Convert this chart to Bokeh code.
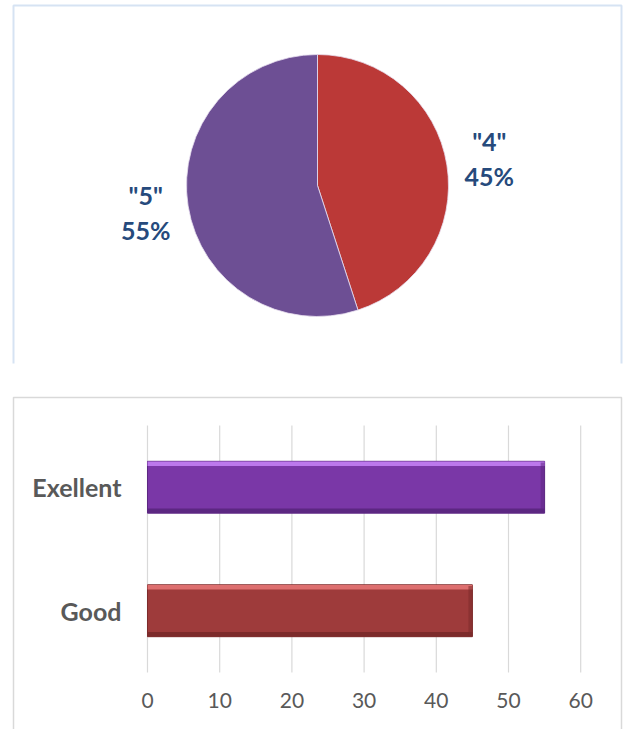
import numpy as np
from bokeh.plotting import figure
from bokeh.models import Range1d, BoxAnnotation, ColumnDataSource
from bokeh.layouts import column
from bokeh.transform import dodge
from bokeh.core.properties import value
from bokeh.embed import file_html
from bokeh.resources import INLINE

# ---------------- data ----------------
ratings = ['"4"', '"5"']
shares = [45, 55]
pie_colors = ["#BB3937", "#6D4F94"]

bar_cats = ["Good", "Exellent"]
bar_vals = [45, 55]
bar_colors = ["#9E3B3B", "#7A37A7"]
bar_tops = ["#DD6F6F", "#BC78EC"]
bar_bottoms = ["#7C2B2B", "#5C2782"]
x_ticks = [0, 10, 20, 30, 40, 50, 60]

LABEL_COLOR = "#264A7C"
GRAY = "#595959"
FONT = "Lato"
W = 623

# ---------------- pie panel ----------------
FH1 = 363          # frame height of the pie panel
H1 = 395           # figure height
p1 = figure(width=W, height=H1, x_range=Range1d(0, W), y_range=Range1d(0, FH1),
            output_backend="svg", toolbar_location=None,
            min_border_left=0, min_border_right=0, min_border_top=0,
            min_border_bottom=H1 - FH1)
p1.frame_align = False
p1.axis.visible = False
p1.grid.visible = False
p1.outline_line_color = None

cx, cy, R = 317, FH1 - 185, 131
frac = np.array(shares, dtype=float) / sum(shares)
cum = np.concatenate([[0], np.cumsum(frac)[:-1]])
start = np.pi / 2 - cum * 2 * np.pi
end = start - frac * 2 * np.pi
mid = (start + end) / 2
RL = 174
src = ColumnDataSource(dict(
    start=start, end=end, color=pie_colors,
    lx=cx + RL * np.cos(mid), ly=cy + RL * np.sin(mid),
    rating=ratings, pct=[f"{s}%" for s in shares]))

p1.wedge(x=cx, y=cy, radius=R, start_angle="start", end_angle="end", direction="clock",
         fill_color="color", line_color="#E8E0F0", line_width=0.8, source=src)
for col, off in (("rating", -17.5), ("pct", 17.5)):
    p1.text(x="lx", y="ly", text=col, y_offset=off, text_align="center",
            text_baseline="middle", text_font=value(FONT), text_font_style="bold",
            text_font_size="25px", text_color=LABEL_COLOR, source=src)

p1.add_layout(BoxAnnotation(left=13, right=621, top=5, bottom=2000,
                            left_units="canvas", right_units="canvas",
                            top_units="canvas", bottom_units="canvas",
                            fill_color=None, line_color="#D6E3F3", line_alpha=1.0,
                            line_width=2))

# ---------------- bar panel ----------------
H2 = 729 - H1      # figure height (page y 395..729)
PX = 7.22          # pixels per unit on x
X0 = 147           # page x of value 0
PY = 123.5         # pixels per category
G_TOP = 425 - H1   # canvas y of the gridline tops
G_BOT = 672 - H1   # canvas y of the gridline bottoms
y_top = 1.5 + G_TOP / PY
y_bot = -0.5 - (H2 - G_BOT) / PY

p2 = figure(width=W, height=H2, x_range=Range1d(-X0 / PX, (W - X0) / PX),
            y_range=Range1d(y_bot, y_top),
            output_backend="svg", toolbar_location=None,
            min_border_left=0, min_border_right=0, min_border_top=0, min_border_bottom=0)
p2.frame_align = False
p2.axis.visible = False
p2.grid.visible = False
p2.outline_line_color = None

pos = list(range(len(bar_cats)))
bsrc = ColumnDataSource(dict(cat=bar_cats, pos=pos, val=bar_vals, color=bar_colors,
                             top=bar_tops, bottom=bar_bottoms))
tsrc = ColumnDataSource(dict(t=x_ticks, lab=[str(t) for t in x_ticks]))

# vertical grid lines
p2.segment(x0="t", x1="t", y0=-0.5, y1=len(bar_cats) - 0.5, line_color="#D9D9D9",
           line_width=1.2, source=tsrc)
# tick labels
p2.text(x="t", y=-0.5, text="lab", y_offset=28, text_align="center", text_baseline="middle",
        text_font=value(FONT), text_font_size="21px", text_color=GRAY, source=tsrc)
# category labels
p2.text(x=0, y="pos", text="cat", x_offset=-26, text_align="right", text_baseline="middle",
        text_font=value(FONT), text_font_size="25px", text_font_style="bold",
        text_color=GRAY, source=bsrc)

# bars with a simple bevel
p2.hbar(y="pos", right="val", left=0, height=0.42, fill_color="color",
        line_color="bottom", line_width=1, source=bsrc)
p2.hbar(y=dodge("pos", 0.19), right="val", left=0, height=0.035,
        fill_color="top", line_color=None, source=bsrc)
p2.hbar(y=dodge("pos", -0.19), right="val", left=0, height=0.035,
        fill_color="bottom", line_color=None, source=bsrc)
p2.hbar(y="pos", right="val", left=dodge("val", -0.55), height=0.40,
        fill_color="bottom", fill_alpha=0.55, line_color=None, source=bsrc)

p2.add_layout(BoxAnnotation(left=13, right=621, top=2, bottom=2000,
                            left_units="canvas", right_units="canvas",
                            top_units="canvas", bottom_units="canvas",
                            fill_color=None, line_color="#D9D9D9", line_alpha=1.0,
                            line_width=1.5))

layout = column(p1, p2, spacing=0)
open("out.html", "w").write(file_html(layout, INLINE))
